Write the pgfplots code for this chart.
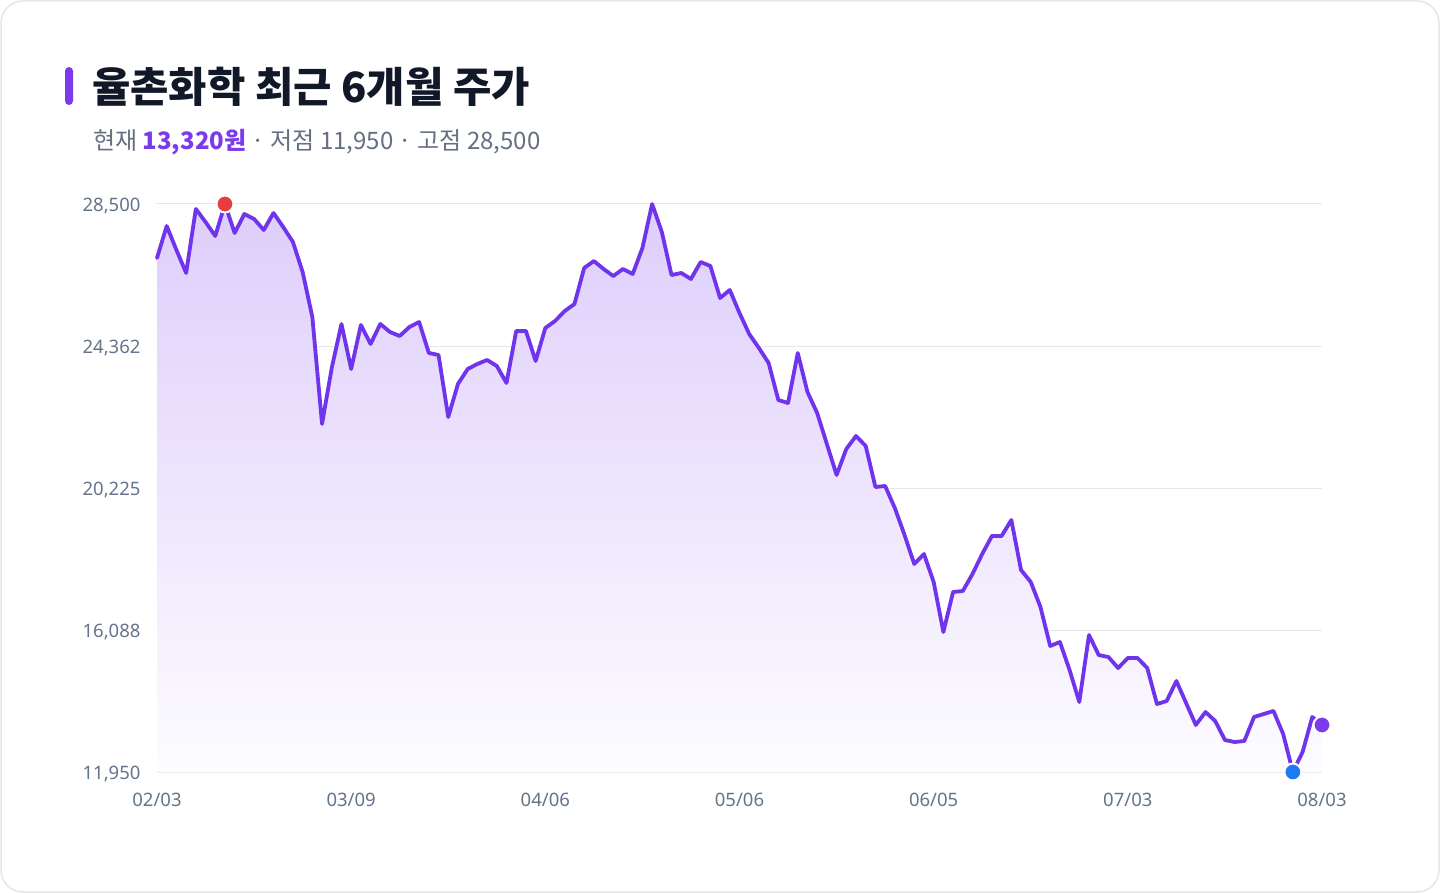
\documentclass[border=0pt]{standalone}
\usepackage{fontspec}
\setmainfont{Noto Sans CJK KR}
\newfontfamily\latinfont{Noto Sans}
\usepackage{pgfplots}
\pgfplotsset{compat=1.18}
\definecolor{linecol}{RGB}{112,52,236}
\definecolor{dotcol}{RGB}{124,58,237}
\definecolor{fillTop}{RGB}{222,206,251}
\definecolor{fillBot}{RGB}{253,252,255}
\definecolor{titlecol}{RGB}{17,24,39}
\definecolor{subcol}{RGB}{100,112,130}
\definecolor{tickcol}{RGB}{100,116,139}
\definecolor{gridcol}{RGB}{229,231,235}
\definecolor{redcol}{RGB}{229,62,62}
\definecolor{bluecol}{RGB}{29,122,242}
\definecolor{cardborder}{RGB}{228,230,234}
\begin{document}
\begin{tikzpicture}
\path[use as bounding box] (0pt,0pt) rectangle (1440pt,-893pt);
\fill[white] (0pt,0pt) rectangle (1440pt,-893pt);
\draw[cardborder, line width=1.5pt, fill=white, rounded corners=22pt] (1pt,-1pt) rectangle (1439pt,-892pt);
\fill[dotcol, rounded corners=4pt] (65pt,-67pt) rectangle (73pt,-105pt);
\node[anchor=base west, inner sep=0pt, text=titlecol, font=\fontsize{41.7}{48}\selectfont\bfseries] at (92pt,-103pt) {율촌화학 최근 6개월 주가};
\node[anchor=base west, inner sep=0pt, text=subcol, font=\fontsize{24}{30}\selectfont] at (93pt,-150pt) {현재 \textcolor{dotcol}{\bfseries 13,320원} · 저점 11,950 · 고점 28,500};
\begin{axis}[
  at={(157pt,-772pt)}, anchor=origin,
  scale only axis, width=1165pt, height=568pt,
  xmin=0, xmax=120, ymin=11950, ymax=28500,
  scaled y ticks=false, scaled x ticks=false,
  clip=false,
  axis line style={draw=none},
  major tick length=0pt,
  xtick={0,20,40,60,80,100,120},
  xticklabels={02/03,03/09,04/06,05/06,06/05,07/03,08/03},
  ytick={11950,16087.5,20225,24362.5,28500},
  yticklabels={11{,}950,16{,}088,20{,}225,24{,}362,28{,}500},
  ymajorgrids,
  major grid style={gridcol, line width=1pt},
  yticklabel style={font=\latinfont\fontsize{18.5}{21}\selectfont, text=tickcol, xshift=-13pt, yshift=-1.5pt},
  xticklabel style={font=\latinfont\fontsize{18.5}{22}\selectfont, text=tickcol, yshift=-18pt},
]
\addplot[draw=none, top color=fillTop, bottom color=fillBot, shading angle=0] table[x=i, y=v] {
i v
0 11950
0 26927
1 27859
2 27160
3 26490
4 28354
5 27976
6 27568
7 28500
8 27655
9 28209
10 28063
11 27742
12 28238
13 27830
14 27393
15 26519
16 25208
17 22090
18 23722
19 25004
20 23692
21 24974
22 24421
23 25004
24 24770
25 24654
26 24916
27 25062
28 24159
29 24100
30 22294
31 23255
32 23692
33 23838
34 23955
35 23780
36 23284
37 24800
38 24800
39 23925
40 24887
41 25091
42 25382
43 25586
44 26635
45 26839
46 26606
47 26402
48 26606
49 26460
50 27218
51 28500
52 27684
53 26431
54 26490
55 26315
56 26810
57 26694
58 25761
59 25994
60 25324
61 24712
62 24304
63 23867
64 22789
65 22702
66 24159
67 23022
68 22410
69 21507
70 20604
71 21361
72 21740
73 21449
74 20254
75 20283
76 19642
77 18856
78 18011
79 18302
80 17486
81 16029
82 17195
83 17224
84 17719
85 18302
86 18827
87 18827
88 19293
89 17836
90 17486
91 16758
92 15621
93 15738
94 14922
95 13990
96 15942
97 15359
98 15301
99 14980
100 15272
101 15272
102 14980
103 13931
104 14019
105 14602
106 13961
107 13320
108 13698
109 13436
110 12883
111 12824
112 12853
113 13553
114 13640
115 13728
116 13057
117 11950
118 12533
119 13553
120 13320
120 11950
};
\addplot[linecol, line width=3.8pt, line join=round, line cap=round] table[x=i, y=v] {
i v
0 26927
1 27859
2 27160
3 26490
4 28354
5 27976
6 27568
7 28500
8 27655
9 28209
10 28063
11 27742
12 28238
13 27830
14 27393
15 26519
16 25208
17 22090
18 23722
19 25004
20 23692
21 24974
22 24421
23 25004
24 24770
25 24654
26 24916
27 25062
28 24159
29 24100
30 22294
31 23255
32 23692
33 23838
34 23955
35 23780
36 23284
37 24800
38 24800
39 23925
40 24887
41 25091
42 25382
43 25586
44 26635
45 26839
46 26606
47 26402
48 26606
49 26460
50 27218
51 28500
52 27684
53 26431
54 26490
55 26315
56 26810
57 26694
58 25761
59 25994
60 25324
61 24712
62 24304
63 23867
64 22789
65 22702
66 24159
67 23022
68 22410
69 21507
70 20604
71 21361
72 21740
73 21449
74 20254
75 20283
76 19642
77 18856
78 18011
79 18302
80 17486
81 16029
82 17195
83 17224
84 17719
85 18302
86 18827
87 18827
88 19293
89 17836
90 17486
91 16758
92 15621
93 15738
94 14922
95 13990
96 15942
97 15359
98 15301
99 14980
100 15272
101 15272
102 14980
103 13931
104 14019
105 14602
106 13961
107 13320
108 13698
109 13436
110 12883
111 12824
112 12853
113 13553
114 13640
115 13728
116 13057
117 11950
118 12533
119 13553
120 13320
};
\addplot[only marks, mark=*, mark size=8.5pt, mark options={fill=redcol, draw=white, line width=2pt}] coordinates {(7,28500)};
\addplot[only marks, mark=*, mark size=8.5pt, mark options={fill=bluecol, draw=white, line width=2pt}] coordinates {(117,11950)};
\addplot[only marks, mark=*, mark size=8.5pt, mark options={fill=dotcol, draw=white, line width=2pt}] coordinates {(120,13320)};
\end{axis}
\end{tikzpicture}
\end{document}
